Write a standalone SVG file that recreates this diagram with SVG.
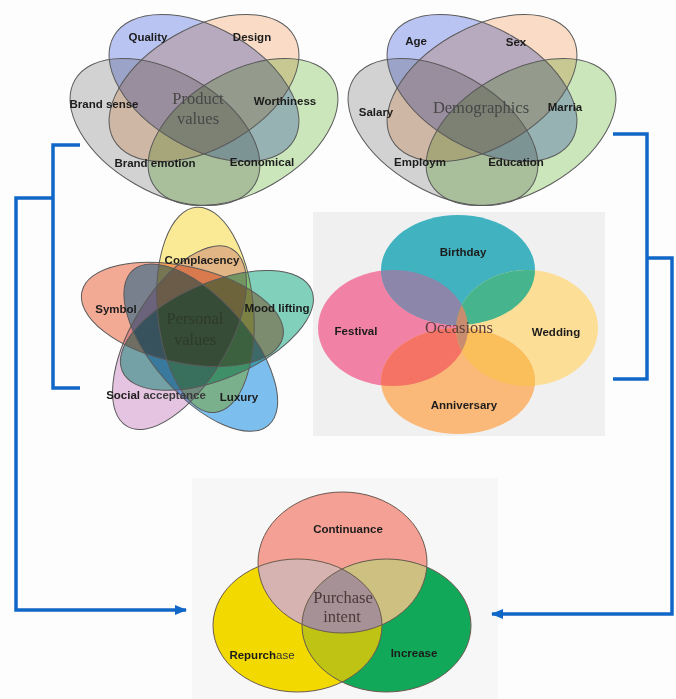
<svg xmlns="http://www.w3.org/2000/svg" width="676" height="699" viewBox="0 0 676 699">
<style>
.lbl{font-family:"Liberation Sans",Arial,sans-serif;font-weight:bold;font-size:11.5px;fill:#1c1c1c;text-anchor:middle;dominant-baseline:central}
.ctr{font-family:"Liberation Serif","Times New Roman",serif;font-size:16.5px;fill:#474747;text-anchor:middle;dominant-baseline:central}
.mul{mix-blend-mode:multiply}
.ol{fill:none;stroke:#5a5a5a;stroke-width:1}
.conn{fill:none;stroke:#1167c8;stroke-width:3.5;stroke-linejoin:miter}
</style>
<defs>
<ellipse id="e4gray" cx="165" cy="132" rx="104" ry="60" transform="rotate(30 165 132)"/>
<ellipse id="e4green" cx="243" cy="132" rx="104" ry="60" transform="rotate(-30 243 132)"/>
<ellipse id="e4blue" cx="204" cy="88" rx="104" ry="60" transform="rotate(30 204 88)"/>
<ellipse id="e4orange" cx="204" cy="88" rx="104" ry="60" transform="rotate(-30 204 88)"/>
<ellipse id="p0" cx="182.4" cy="314.4" rx="103" ry="48" transform="rotate(12.8 182.4 314.4)"/>
<ellipse id="p1" cx="205.5" cy="309.9" rx="103" ry="48" transform="rotate(84.8 205.5 309.9)"/>
<ellipse id="p2" cx="216.9" cy="330.4" rx="103" ry="48" transform="rotate(156.8 216.9 330.4)"/>
<ellipse id="p3" cx="200.8" cy="347.6" rx="103" ry="48" transform="rotate(48.8 200.8 347.6)"/>
<ellipse id="p4" cx="179.5" cy="337.7" rx="103" ry="48" transform="rotate(120.8 179.5 337.7)"/>
<ellipse id="oB" cx="458" cy="270" rx="77" ry="55"/>
<ellipse id="oF" cx="393" cy="328" rx="75" ry="58"/>
<ellipse id="oW" cx="527" cy="328" rx="71" ry="58"/>
<ellipse id="oA" cx="458" cy="381" rx="77" ry="53"/>
<clipPath id="cB"><use href="#oB"/></clipPath>
<clipPath id="cF"><use href="#oF"/></clipPath>
<clipPath id="cA"><use href="#oA"/></clipPath>
<ellipse id="iC" cx="342.5" cy="562.5" rx="84.5" ry="70.5"/>
<ellipse id="iR" cx="297.5" cy="625.5" rx="84.5" ry="66.5"/>
<ellipse id="iI" cx="386.5" cy="625.5" rx="84.5" ry="66.5"/>
<clipPath id="cC"><use href="#iC"/></clipPath>
<clipPath id="cR"><use href="#iR"/></clipPath>
<marker id="arr" viewBox="0 0 12 10" refX="11" refY="5" markerWidth="12" markerHeight="10" markerUnits="userSpaceOnUse" orient="auto">
<path d="M0,0 L12,5 L0,10 Z" fill="#1167c8"/>
</marker>
</defs>
<rect width="676" height="699" fill="#fdfdfd"/>
<rect x="313" y="212" width="292" height="224" fill="#f0f0f0"/>
<rect x="192" y="478" width="306" height="221" fill="#f7f7f7"/>

<g id="product-values">
<use href="#e4gray" fill="#d4d4d4" class="mul"/>
<use href="#e4green" fill="#cde8bc" class="mul"/>
<use href="#e4blue" fill="#bcc6f4" class="mul"/>
<use href="#e4orange" fill="#fcdec8" class="mul"/>
<use href="#e4gray" class="ol"/>
<use href="#e4green" class="ol"/>
<use href="#e4blue" class="ol"/>
<use href="#e4orange" class="ol"/>
<text class="lbl" x="148" y="37">Quality</text>
<text class="lbl" x="252" y="37">Design</text>
<text class="lbl" x="104" y="104">Brand sense</text>
<text class="lbl" x="285" y="101">Worthiness</text>
<text class="lbl" x="155" y="163">Brand emotion</text>
<text class="lbl" x="262" y="162">Economical</text>
<text class="ctr" x="198" y="98">Product</text>
<text class="ctr" x="198" y="118">values</text>
</g>

<g id="demographics">
<g transform="translate(278 0)">
<use href="#e4gray" fill="#d4d4d4" class="mul"/>
<use href="#e4green" fill="#cde8bc" class="mul"/>
<use href="#e4blue" fill="#bcc6f4" class="mul"/>
<use href="#e4orange" fill="#fcdec8" class="mul"/>
<use href="#e4gray" class="ol"/>
<use href="#e4green" class="ol"/>
<use href="#e4blue" class="ol"/>
<use href="#e4orange" class="ol"/>
</g>
<text class="lbl" x="416" y="41">Age</text>
<text class="lbl" x="516" y="42">Sex</text>
<text class="lbl" x="376" y="112">Salary</text>
<text class="lbl" x="565" y="107">Marria</text>
<text class="lbl" x="420" y="162">Employm</text>
<text class="lbl" x="516" y="162">Education</text>
<text class="ctr" x="481" y="107">Demographics</text>
</g>

<g id="personal-values">
<use href="#p0" fill="#f5ac96" class="mul"/>
<use href="#p1" fill="#fcec96" class="mul"/>
<use href="#p2" fill="#82d2be" class="mul"/>
<use href="#p3" fill="#7dc0f0" class="mul"/>
<use href="#p4" fill="#e6c6e2" class="mul"/>
<use href="#p0" class="ol"/>
<use href="#p1" class="ol"/>
<use href="#p2" class="ol"/>
<use href="#p3" class="ol"/>
<use href="#p4" class="ol"/>
<text class="lbl" x="202" y="260">Complacency</text>
<text class="lbl" x="116" y="309">Symbol</text>
<text class="lbl" x="277" y="308">Mood lifting</text>
<text class="lbl" x="156" y="395">Social <tspan fill="#3a3a3a">acceptance</tspan></text>
<text class="lbl" x="239" y="397">Luxury</text>
<text class="ctr" x="195" y="318" style="fill:#2e3a2a">Personal</text>
<text class="ctr" x="195" y="339" style="fill:#2e3a2a">values</text>
</g>

<g id="occasions">
<use href="#oF" fill="#f282a5"/>
<use href="#oB" fill="#41b2c0"/>
<use href="#oW" fill="#fdde96"/>
<use href="#oA" fill="#fab978"/>
<use href="#oF" fill="#8c87aa" clip-path="url(#cB)"/>
<use href="#oW" fill="#46b48c" clip-path="url(#cB)"/>
<use href="#oA" fill="#f57364" clip-path="url(#cF)"/>
<use href="#oW" fill="#fabe5a" clip-path="url(#cA)"/>
<use href="#oW" fill="#c88c6e" clip-path="url(#cF)"/>
<text class="lbl" x="463" y="252">Birthday</text>
<text class="lbl" x="356" y="331">Festival</text>
<text class="lbl" x="556" y="332">Wedding</text>
<text class="lbl" x="464" y="405">Anniversary</text>
<text class="ctr" x="459" y="327" style="fill:#5a3c3c">Occasions</text>
</g>

<g id="purchase-intent">
<use href="#iC" fill="#f4a094"/>
<use href="#iR" fill="#f2da00"/>
<use href="#iI" fill="#12a85a"/>
<use href="#iR" fill="#d6b2b0" clip-path="url(#cC)"/>
<use href="#iI" fill="#cdc080" clip-path="url(#cC)"/>
<use href="#iI" fill="#bec314" clip-path="url(#cR)"/>
<g clip-path="url(#cC)"><use href="#iI" fill="#a59196" clip-path="url(#cR)"/></g>
<use href="#iC" fill="none" stroke="#6b5a50" stroke-width="1"/>
<use href="#iR" fill="none" stroke="#6b5a50" stroke-width="1"/>
<use href="#iI" fill="none" stroke="#6b5a50" stroke-width="1"/>
<text class="lbl" x="348" y="529">Continuance</text>
<text class="lbl" x="262" y="655">Repurch<tspan style="font-weight:normal" fill="#333">ase</tspan></text>
<text class="lbl" x="414" y="653">Increase</text>
<text class="ctr" x="343" y="597" style="fill:#4a3a3a">Purchase</text>
<text class="ctr" x="342" y="616" style="fill:#4a3a3a">intent</text>
</g>

<g id="connectors">
<path class="conn" d="M80,145 H53 V388 H80"/>
<path class="conn" d="M53,198 H16 V610 H186" marker-end="url(#arr)"/>
<path class="conn" d="M613,134 H647 V379 H613"/>
<path class="conn" d="M647,258 H672 V614 H492" marker-end="url(#arr)"/>
</g>
</svg>
